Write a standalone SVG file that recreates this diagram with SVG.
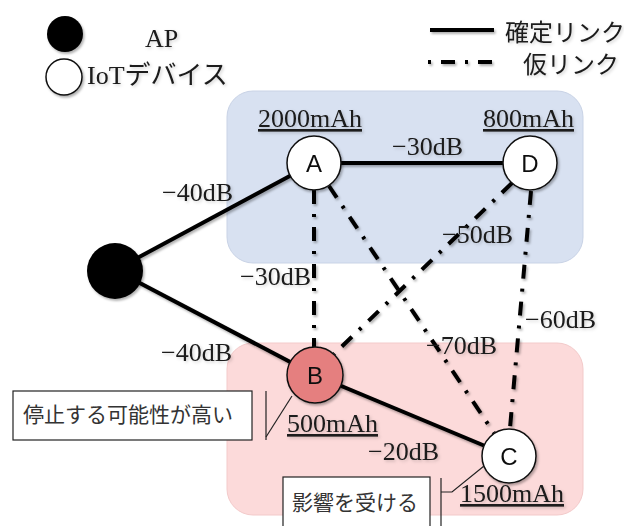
<svg xmlns="http://www.w3.org/2000/svg" width="624" height="526" viewBox="0 0 624 526">
  <defs>
    <filter id="shadow" x="-20%" y="-20%" width="140%" height="140%">
      <feDropShadow dx="1.5" dy="2" stdDeviation="1.2" flood-color="#000" flood-opacity="0.3"/>
    </filter>
    <filter id="textShadow" x="-10%" y="-20%" width="120%" height="140%">
      <feDropShadow dx="1.5" dy="1.5" stdDeviation="1.4" flood-color="#000" flood-opacity="0.18"/>
    </filter>
    <style>
      .serif { font-family: "Liberation Serif", "Noto Sans CJK JP", serif; fill: #1a1a1a; }
      .db { font-size: 26px; }
      .cap { font-size: 26px; text-decoration: underline; }
      .jp { font-family: "Noto Sans CJK JP", sans-serif; font-size: 21px; fill: #333; }
      .letter { font-family: "Liberation Sans", Arial, sans-serif; font-size: 24px; fill: #111; text-anchor: middle; }
      .solid { stroke: #000; stroke-width: 4; fill: none; }
      .tent { stroke: #000; stroke-width: 4; fill: none; stroke-dasharray: 14 10 3 10; }
      .node { stroke: #111; stroke-width: 1.5; }
      .thin { stroke: #222; stroke-width: 1.2; fill: none; }
    </style>
  </defs>

  <rect width="624" height="526" fill="#fff"/>

  <!-- group regions -->
  <rect x="227" y="91" width="356" height="172" rx="26" fill="#D8E1F1" stroke="#C9D3E6" stroke-width="1"/>
  <rect x="227" y="343" width="356" height="172" rx="26" fill="#FCDADA" stroke="#F3CACA" stroke-width="1"/>

  <!-- legend -->
  <g id="legend">
    <g filter="url(#shadow)">
      <circle cx="65" cy="34" r="18" fill="#000"/>
      <circle cx="64" cy="77" r="18" fill="#fff" stroke="#111" stroke-width="1.5"/>
      <line x1="430" y1="30" x2="494" y2="30" class="solid"/>
      <line x1="428" y1="62" x2="494" y2="62" stroke="#000" stroke-width="4" stroke-dasharray="3 10 14 10"/>
    </g>
    <g class="serif" filter="url(#textShadow)">
      <text x="145" y="47" font-size="26">AP</text>
      <text x="87" y="84" font-size="26">IoTデバイス</text>
      <text x="505" y="41" font-size="24">確定リンク</text>
      <text x="523" y="73" font-size="24">仮リンク</text>
    </g>
  </g>

  <!-- connectors -->
  <g id="connectors" filter="url(#shadow)">
    <line x1="115" y1="270" x2="314" y2="163" class="solid"/>
    <line x1="115" y1="270" x2="315" y2="375" class="solid"/>
    <line x1="314" y1="163" x2="530" y2="163" class="solid"/>
    <line x1="315" y1="375" x2="509" y2="456" class="solid"/>
    <line x1="314" y1="190" x2="314" y2="348" class="tent"/>
    <line x1="329" y1="186" x2="494" y2="433" class="tent"/>
    <line x1="512" y1="183" x2="334" y2="354" class="tent"/>
    <line x1="531" y1="191" x2="510" y2="428" class="tent"/>
  </g>

  <!-- nodes -->
  <g id="ap" filter="url(#shadow)">
    <circle cx="115" cy="271" r="28" fill="#000"/>
  </g>
  <g id="node-a" filter="url(#shadow)">
    <circle class="node" cx="314" cy="163" r="27" fill="#fff"/>
    <text class="letter" x="314" y="172">A</text>
  </g>
  <g id="node-d" filter="url(#shadow)">
    <circle class="node" cx="530" cy="163" r="27" fill="#fff"/>
    <text class="letter" x="530" y="172">D</text>
  </g>
  <g id="node-b" filter="url(#shadow)">
    <circle class="node" cx="315" cy="375" r="28" fill="#E57F7F"/>
    <text class="letter" x="315" y="384">B</text>
  </g>
  <g id="node-c" filter="url(#shadow)">
    <circle class="node" cx="509" cy="456" r="27" fill="#fff"/>
    <text class="letter" x="509" y="465">C</text>
  </g>

  <!-- link and capacity labels -->
  <g id="labels" class="serif" filter="url(#textShadow)">
    <text class="cap" x="258" y="127">2000mAh</text>
    <text class="cap" x="483" y="127">800mAh</text>
    <text class="cap" x="287" y="432">500mAh</text>
    <text class="cap" x="460" y="502">1500mAh</text>
    <text class="db" x="392" y="155">−30dB</text>
    <text class="db" x="162" y="201">−40dB</text>
    <text class="db" x="240" y="285">−30dB</text>
    <text class="db" x="442" y="243">−50dB</text>
    <text class="db" x="525" y="328">−60dB</text>
    <text class="db" x="426" y="354">−70dB</text>
    <text class="db" x="161" y="361">−40dB</text>
    <text class="db" x="368" y="460">−20dB</text>
  </g>

  <!-- callouts -->
  <g id="callout-stop">
    <rect x="13" y="391" width="239" height="49" fill="#fff" stroke="#222" stroke-width="1.2"/>
    <text class="jp" x="23" y="422">停止する可能性が高い</text>
    <line x1="266" y1="391" x2="266" y2="440" class="thin"/>
    <line x1="266" y1="437" x2="292" y2="396" class="thin"/>
  </g>
  <g id="callout-affected">
    <rect x="283" y="477" width="147" height="52" fill="#fff" stroke="#222" stroke-width="1.2"/>
    <text class="jp" x="292" y="510">影響を受ける</text>
    <line x1="441" y1="478" x2="441" y2="526" class="thin"/>
    <polyline points="441,492 452,492 484,466" class="thin"/>
  </g>
</svg>
